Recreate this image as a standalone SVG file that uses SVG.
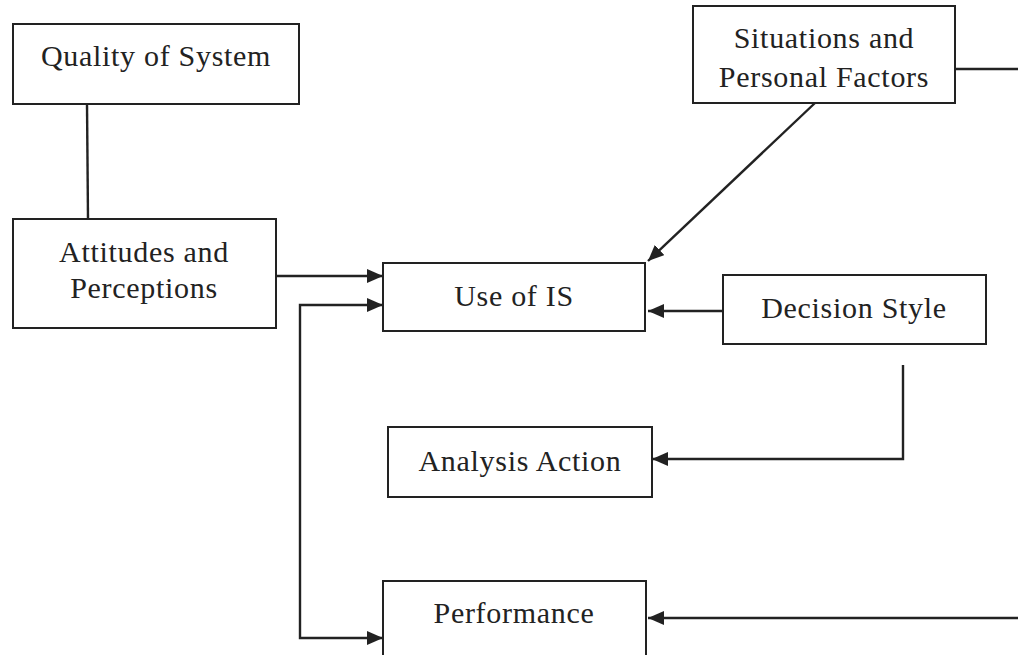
<svg xmlns="http://www.w3.org/2000/svg" width="1018" height="655" viewBox="0 0 1018 655">
  <style>
    .box { fill: #fff; stroke: #222; stroke-width: 2; }
    .lbl { font-family: "Liberation Serif", "Times New Roman", serif; font-size: 30px; letter-spacing: 0.7px; fill: #222; text-anchor: middle; }
    .wire { fill: none; stroke: #222; stroke-width: 2.4; }
  </style>
  <defs>
    <marker id="arrow" viewBox="0 0 16 14" refX="16" refY="7" markerWidth="16" markerHeight="14" markerUnits="userSpaceOnUse" orient="auto-start-reverse">
      <path d="M0,0 L16,7 L0,14 Z" fill="#222"/>
    </marker>
  </defs>

  <rect width="1018" height="655" fill="#fff"/>

  <!-- connectors -->
  <g id="connectors">
    <line class="wire" x1="87" y1="104" x2="88" y2="219"/>
    <line class="wire" x1="276" y1="276" x2="383" y2="276" marker-end="url(#arrow)"/>
    <!-- feedback loop: Performance and Use of IS -->
    <polyline class="wire" points="383,305 300,305 300,638 383,638" marker-start="url(#arrow)" marker-end="url(#arrow)"/>
    <line class="wire" x1="815" y1="103" x2="648" y2="261" marker-end="url(#arrow)"/>
    <line class="wire" x1="955" y1="69" x2="1018" y2="69"/>
    <line class="wire" x1="723" y1="311" x2="648" y2="311" marker-end="url(#arrow)"/>
    <polyline class="wire" points="903,365 903,459 652,459" marker-end="url(#arrow)"/>
    <line class="wire" x1="1018" y1="618" x2="648" y2="618" marker-end="url(#arrow)"/>
  </g>

  <g id="quality">
    <rect class="box" x="13" y="24" width="286" height="80"/>
    <text class="lbl" x="156" y="66">Quality of System</text>
  </g>

  <g id="situations">
    <rect class="box" x="693" y="6" width="262" height="97"/>
    <text class="lbl" x="824" y="48">Situations and</text>
    <text class="lbl" x="824" y="87">Personal Factors</text>
  </g>

  <g id="attitudes">
    <rect class="box" x="13" y="219" width="263" height="109"/>
    <text class="lbl" x="144" y="262">Attitudes and</text>
    <text class="lbl" x="144" y="298">Perceptions</text>
  </g>

  <g id="use-of-is">
    <rect class="box" x="383" y="263" width="262" height="68"/>
    <text class="lbl" x="514" y="306">Use of IS</text>
  </g>

  <g id="decision-style">
    <rect class="box" x="723" y="275" width="263" height="69"/>
    <text class="lbl" x="854" y="318">Decision Style</text>
  </g>

  <g id="analysis-action">
    <rect class="box" x="388" y="427" width="264" height="70"/>
    <text class="lbl" x="520" y="471">Analysis Action</text>
  </g>

  <g id="performance">
    <rect class="box" x="383" y="581" width="263" height="90"/>
    <text class="lbl" x="514" y="623">Performance</text>
  </g>
</svg>
